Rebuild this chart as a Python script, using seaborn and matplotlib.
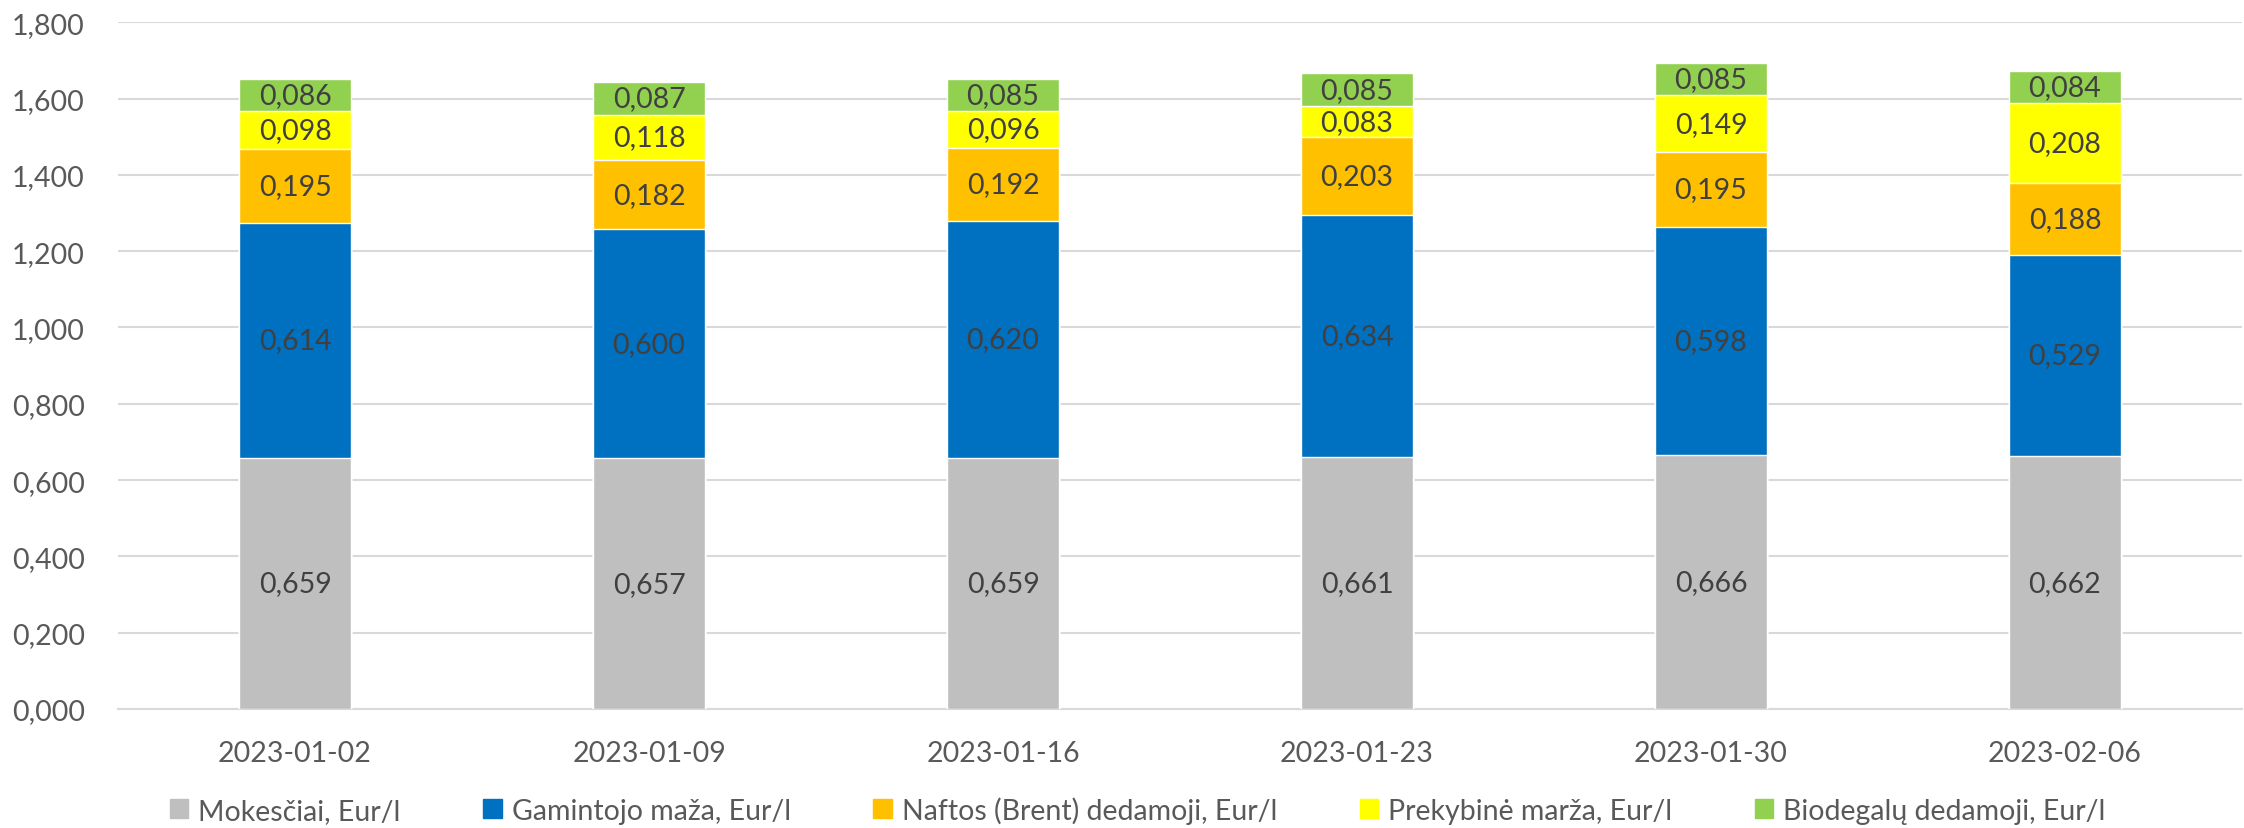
import matplotlib
matplotlib.use("Agg")
import matplotlib.pyplot as plt
import matplotlib.patches as mpatches
import numpy as np
import pandas as pd
import seaborn as sns

# data
dates = ["2023-01-02", "2023-01-09", "2023-01-16", "2023-01-23", "2023-01-30", "2023-02-06"]
series_names = ["Mokesčiai, Eur/l", "Gamintojo maža, Eur/l", "Naftos (Brent) dedamoji, Eur/l",
                "Prekybinė marža, Eur/l", "Biodegalų dedamoji, Eur/l"]
mokesciai = [0.659, 0.657, 0.659, 0.661, 0.666, 0.662]
gamintojo = [0.614, 0.600, 0.620, 0.634, 0.598, 0.529]
naftos = [0.195, 0.182, 0.192, 0.203, 0.195, 0.188]
prekybine = [0.098, 0.118, 0.096, 0.083, 0.149, 0.208]
biodegalu = [0.086, 0.087, 0.085, 0.085, 0.085, 0.084]
colors = ["#BFBFBF", "#0070C0", "#FFC000", "#FFFF00", "#92D050"]

sns.set_theme(style="white")
plt.rcParams["font.family"] = ["Lato", "DejaVu Sans"]

series = [mokesciai, gamintojo, naftos, prekybine, biodegalu]
cum = np.cumsum(np.array(series), axis=0)

fig = plt.figure(figsize=(22.44, 8.29), dpi=100)
ax = fig.add_axes([0.0526, 0.1435, 0.9465, 0.8285])

# stacked bars: draw cumulative totals, tallest first
for i in range(len(series) - 1, -1, -1):
    df = pd.DataFrame({"date": dates, "value": cum[i]})
    sns.barplot(data=df, x="date", y="value", color=colors[i], saturation=1,
                width=0.316, ax=ax, zorder=3)

# segment labels
for i, vals in enumerate(series):
    bottoms = cum[i] - np.array(vals)
    for j, v in enumerate(vals):
        ax.text(j, bottoms[j] + v / 2, f"{v:.3f}".replace(".", ","),
                ha="center", va="center", fontsize=20.5, color="#404040", zorder=4)

ax.set_xlim(-0.5, 5.5)
ax.set_ylim(0, 1.8)
yt = np.arange(0, 1.81, 0.2)
ax.set_yticks(yt)
ax.set_yticklabels([f"{t:.3f}".replace(".", ",") for t in yt])
ax.grid(axis="y", color="#D9D9D9", linewidth=1.5, zorder=0)
ax.set_axisbelow(True)
for s in ["top", "right", "left"]:
    ax.spines[s].set_visible(False)
ax.spines["bottom"].set_color("#D9D9D9")
ax.spines["bottom"].set_linewidth(1.5)
ax.set_xticks(np.arange(-0.5, 6, 1), minor=True)
ax.tick_params(axis="x", which="minor", length=8, width=1.5, color="#D9D9D9")
ax.tick_params(axis="x", which="major", length=0, pad=22, labelsize=20.5, labelcolor="#595959")
ax.tick_params(axis="y", length=0, pad=24, labelsize=20.5, labelcolor="#595959")
ax.set_xlabel("")
ax.set_ylabel("")

handles = [mpatches.Patch(color=c, label=n) for c, n in zip(colors, series_names)]
fig.legend(handles=handles, loc="center", bbox_to_anchor=(0.507, 0.022), ncol=5,
           frameon=False, fontsize=20.5, labelcolor="#595959", handlelength=0.65,
           handleheight=0.65, handletextpad=0.35, columnspacing=2.9,
           borderpad=0.1)

fig.savefig("out.png", dpi=100)
